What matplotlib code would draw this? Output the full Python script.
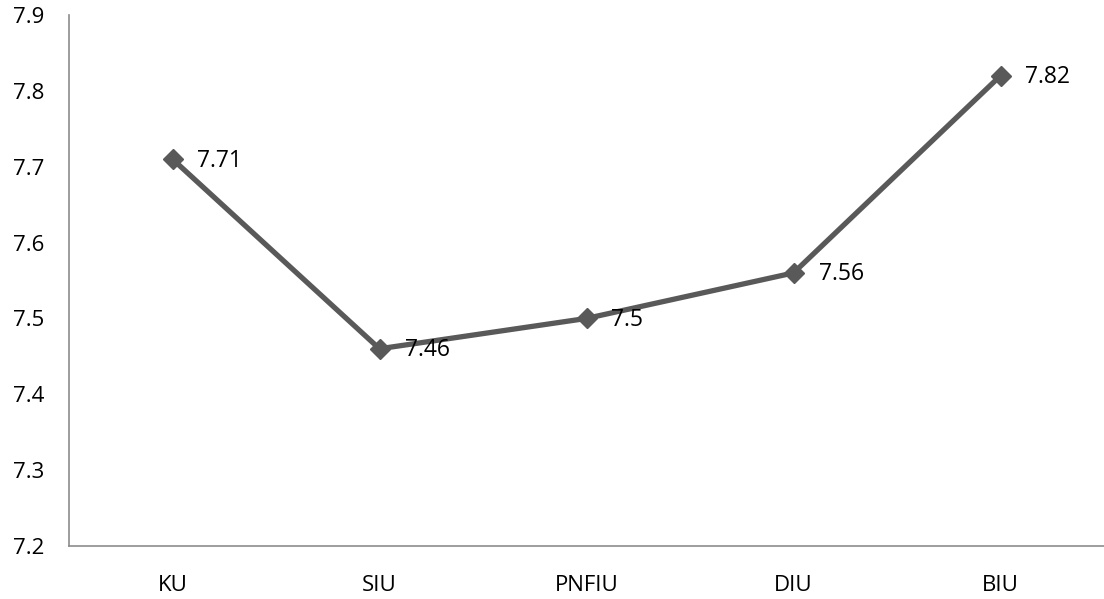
import matplotlib
matplotlib.use("Agg")
import matplotlib.pyplot as plt

categories = ["KU", "SIU", "PNFIU", "DIU", "BIU"]
values = [7.71, 7.46, 7.5, 7.56, 7.82]
value_labels = ["7.71", "7.46", "7.5", "7.56", "7.82"]
yticks = [7.2, 7.3, 7.4, 7.5, 7.6, 7.7, 7.8, 7.9]

plt.rcParams['font.family'] = ['Open Sans', 'DejaVu Sans']

fig = plt.figure(figsize=(11.04, 5.99), dpi=100)
ax = fig.add_axes([69/1104, 1 - 546/599, 1 - 69/1104, (546 - 15)/599])

x = list(range(len(categories)))
ax.plot(x, values, color="#595959", lw=3.8, marker="D", markersize=10.5,
        markerfacecolor="#595959", markeredgecolor="#595959")

fs = 16
for xi, v, lab in zip(x, values, value_labels):
    ax.annotate(lab, (xi, v), xytext=(18, -1), textcoords="offset points",
                ha="left", va="center", fontsize=16.5, color="black")

ax.set_xlim(-0.5, 4.5)
ax.set_ylim(7.2, 7.9)
ax.set_xticks(x)
ax.set_xticklabels(categories, fontsize=fs)
ax.set_yticks(yticks)
ax.set_yticklabels([f"{t:.1f}" for t in yticks], fontsize=fs)
ax.tick_params(length=0)
ax.tick_params(axis="x", pad=21)
ax.tick_params(axis="y", pad=18)
for s in ["top", "right"]:
    ax.spines[s].set_visible(False)
for s in ["left", "bottom"]:
    ax.spines[s].set_color("#8c8c8c")
    ax.spines[s].set_linewidth(1.2)

fig.savefig("out.png", dpi=100)
